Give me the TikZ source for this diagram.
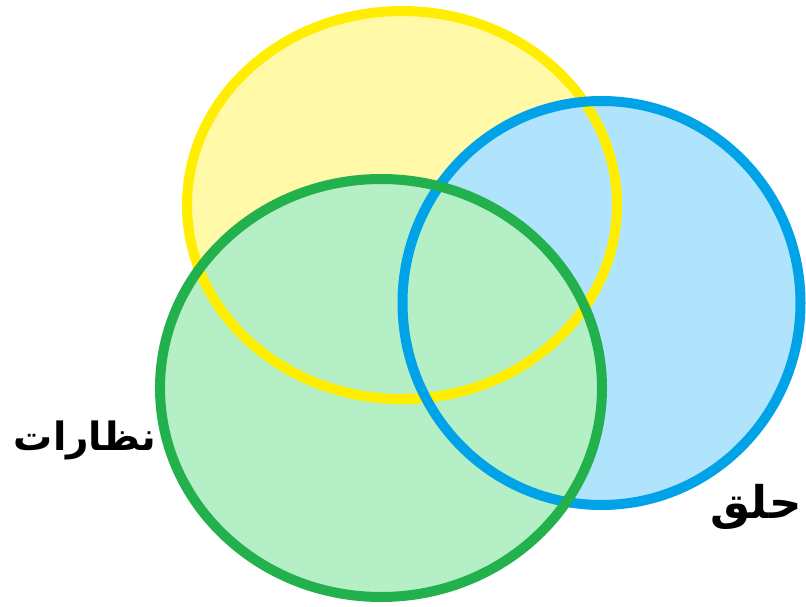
\documentclass[tikz,border=0pt]{standalone}
\usepackage{fontspec}
\newfontfamily\arabicfont[Script=Arabic]{DejaVu Sans}
\TeXXeTstate=1
\definecolor{yfill}{HTML}{FFF9A8}
\definecolor{ystroke}{HTML}{FFEE00}
\definecolor{bfill}{HTML}{AFE4FC}
\definecolor{bstroke}{HTML}{00A2E8}
\definecolor{gfill}{HTML}{B5EFC5}
\definecolor{gstroke}{HTML}{22B14C}
\begin{document}
\begin{tikzpicture}[x=1pt,y=-1pt,
  ring/.style={line width=10pt},
  lbl/.style={font=\arabicfont\bfseries, text=black, inner sep=0pt}]
\useasboundingbox (0,0) rectangle (806,607);
% fills
\fill[yfill] (402,205) ellipse [x radius=215, y radius=194];
\fill[bfill] (601.5,303) ellipse [x radius=199, y radius=202];
\fill[gfill] (381,388) ellipse [x radius=221, y radius=209];
% strokes
\draw[ring, ystroke] (402,205) ellipse [x radius=215, y radius=194];
\draw[ring, bstroke] (601.5,303) ellipse [x radius=199, y radius=202];
\draw[ring, gstroke] (381,388) ellipse [x radius=221, y radius=209];
% labels
\node[lbl, font=\arabicfont\bfseries\fontsize{39}{44}\selectfont] (glasses) at (85,440) {\beginR نظارات\endR};
\node[lbl, font=\arabicfont\bfseries\fontsize{45}{50}\selectfont] (ring1) at (756,507) {\beginR حلق\endR};
\end{tikzpicture}
\end{document}
